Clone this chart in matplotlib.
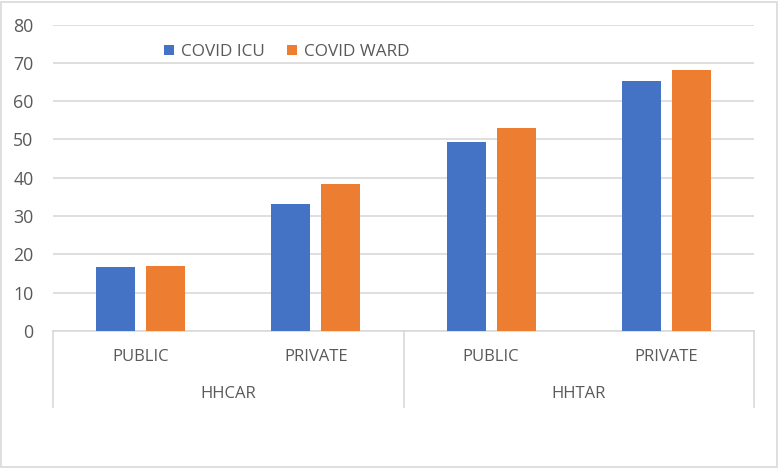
import numpy as np
import matplotlib.pyplot as plt
from matplotlib.patches import Rectangle
import matplotlib.transforms as mtransforms

plt.rcParams['font.family'] = ['Open Sans', 'DejaVu Sans']

# data
groups = ['HHCAR', 'HHTAR']
sectors = ['PUBLIC', 'PRIVATE', 'PUBLIC', 'PRIVATE']
icu = [16.8, 33.2, 49.4, 65.2]
ward = [17.0, 38.3, 53.1, 68.1]

grey = '#595959'
x = np.arange(len(sectors))

fig = plt.figure(figsize=(7.79, 4.68), dpi=100)
ax = fig.add_axes([53/779, 1-331/468, 701/779, 306.5/468])

w = 0.2225
off = 0.1426
ax.bar(x - off, icu, w, color='#4472C4', label='COVID ICU', zorder=3)
ax.bar(x + off, ward, w, color='#ED7D31', label='COVID WARD', zorder=3)

ax.set_xlim(-0.5, len(sectors) - 0.5)
ax.set_ylim(0, 80)
ax.set_yticks(range(0, 81, 10))
ax.yaxis.grid(True, color='#D9D9D9', linewidth=1.2, zorder=0)
for s in ['top', 'right', 'left']:
    ax.spines[s].set_visible(False)
ax.spines['bottom'].set_color('#D9D9D9')
ax.spines['bottom'].set_linewidth(1.2)
ax.tick_params(axis='y', length=0, pad=14, labelsize=12.8, labelcolor=grey)
ax.tick_params(axis='x', length=0, labelbottom=False)

# multi-level category axis
trans = mtransforms.blended_transform_factory(ax.transData, ax.transAxes)
for xi, lab in zip(x, sectors):
    ax.text(xi, -0.085, lab, transform=trans, ha='center', va='center',
            fontsize=12, color=grey)
for gi, g in enumerate(groups):
    ax.text(gi * 2 + 0.5, -0.206, g, transform=trans, ha='center', va='center',
            fontsize=12, color=grey)
for xv in [-0.5, 1.5, 3.5]:
    ax.plot([xv, xv], [0, -0.248], transform=trans, color='#D9D9D9',
            linewidth=1.2, clip_on=False)

ax.legend(loc='center left', bbox_to_anchor=(0.136, 0.91), ncol=2, frameon=False,
          fontsize=12.3, handlelength=0.6, handleheight=0.6, handletextpad=0.4,
          columnspacing=1.3, labelcolor=grey)

fig.patches.append(Rectangle((1/779, 1/468), 776/779, 465/468, transform=fig.transFigure,
                             fill=False, edgecolor='#D9D9D9', linewidth=1.2))

fig.savefig('out.png', dpi=100)
